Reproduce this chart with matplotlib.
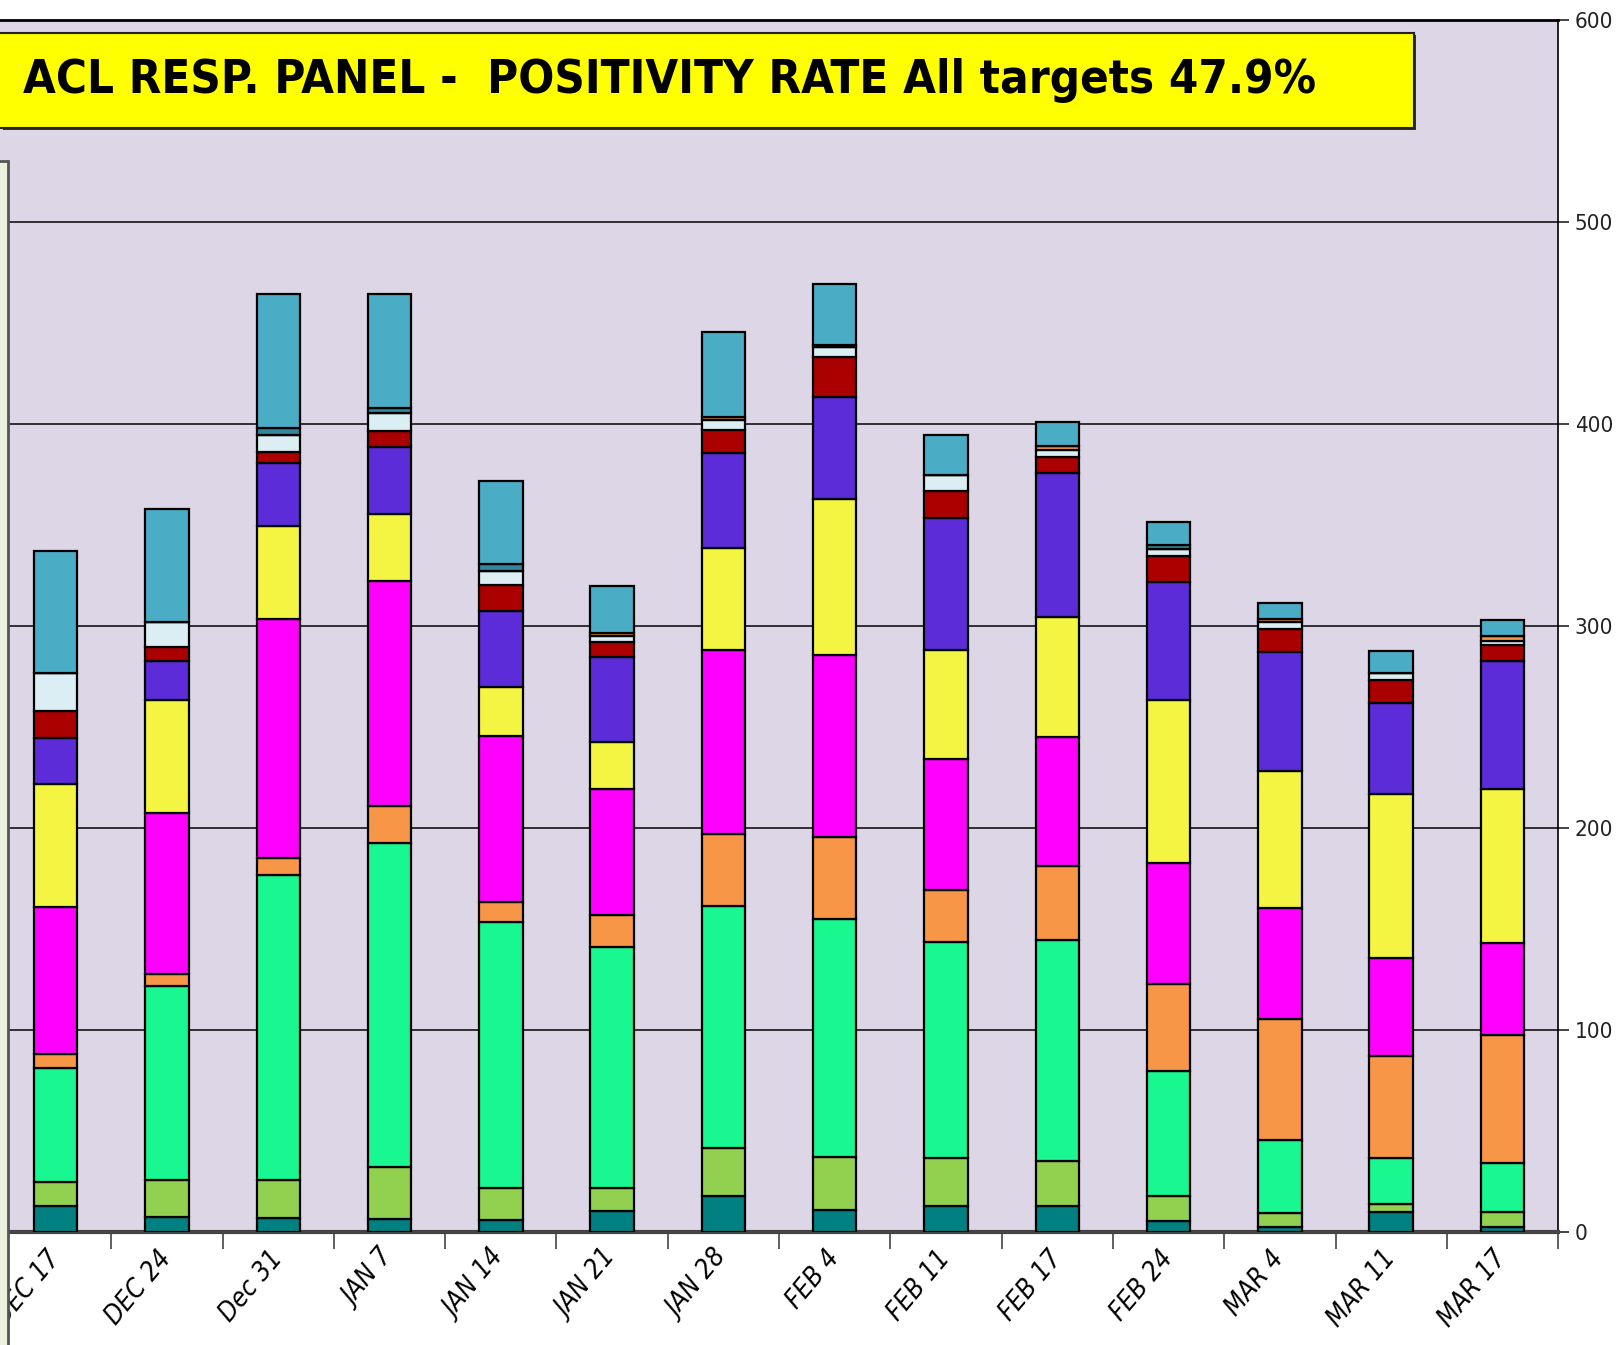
import numpy as np
import matplotlib.pyplot as plt
from matplotlib import font_manager
from matplotlib.patches import Rectangle

categories = ['DEC 17', 'DEC 24', 'Dec 31', 'JAN 7', 'JAN 14', 'JAN 21', 'JAN 28',
              'FEB 4', 'FEB 11', 'FEB 17', 'FEB 24', 'MAR 4', 'MAR 11', 'MAR 17']

# stacked segments, bottom to top
teal = [12.9, 7.3, 6.7, 6.2, 6.0, 10.2, 17.6, 10.8, 12.9, 12.9, 5.5, 2.4, 9.8, 2.5]
yellowgreen = [11.7, 18.4, 19.0, 26.2, 15.8, 11.6, 24.2, 26.1, 23.6, 22.5, 12.3, 6.8, 4.1, 7.6]
green = [56.8, 96.3, 150.8, 160.1, 131.5, 119.2, 119.6, 118.3, 107.1, 109.2, 61.7, 36.6, 22.6, 23.9]
orange = [6.6, 5.5, 8.9, 18.5, 10.3, 16.0, 35.8, 40.5, 25.7, 36.8, 43.3, 59.9, 50.4, 63.7]
magenta = [72.8, 79.8, 117.9, 111.2, 81.9, 62.1, 91.0, 90.2, 65.1, 63.7, 60.1, 54.6, 48.9, 45.3]
yellow = [61.2, 56.1, 46.2, 33.4, 24.4, 23.7, 50.5, 77.0, 53.5, 59.6, 80.6, 68.0, 81.2, 76.2]
violet = [22.6, 19.5, 31.2, 32.8, 37.5, 41.7, 46.9, 50.6, 65.6, 70.9, 58.3, 59.0, 44.9, 63.4]
darkred = [13.3, 6.5, 5.5, 8.3, 13.1, 7.4, 11.3, 19.5, 13.2, 8.1, 13.1, 11.4, 11.6, 8.1]
lightcyan = [18.6, 12.4, 8.5, 8.8, 6.6, 3.0, 5.2, 5.0, 8.1, 3.2, 3.1, 3.4, 3.2, 2.1]
orange2 = [0, 0, 0, 0, 0, 1.5, 1.6, 0, 0, 2.3, 0, 1.5, 0, 2.5]
darkteal = [0, 0, 3.5, 2.2, 3.7, 0, 0, 1.0, 0, 0, 2.2, 0, 0, 0]
blue = [60.8, 55.9, 66.2, 56.7, 41.0, 23.2, 41.7, 30.3, 19.7, 11.8, 11.2, 7.6, 11.0, 7.5]

series = [teal, yellowgreen, green, orange, magenta, yellow, violet,
          darkred, lightcyan, orange2, darkteal, blue]
colors = ['#008080', '#92D050', '#18F790', '#F79646', '#FF00FF', '#F4F442', '#5B2CD8',
          '#AA0000', '#DAEEF3', '#F79646', '#31859C', '#4BACC6']

title = 'ACL RESP. PANEL -  POSITIVITY RATE All targets 47.9%'

# use a condensed face if one is installed, otherwise Liberation Sans
have_condensed = any(f.name == 'DejaVu Sans' and str(f.stretch) in ('condensed', '300')
                     for f in font_manager.fontManager.ttflist)
if have_condensed:
    font_kw = dict(family='DejaVu Sans', stretch='condensed')
else:
    font_kw = dict(family='Liberation Sans')

fig = plt.figure(figsize=(16.18, 13.45), dpi=100)
ax = fig.add_axes([0.0, 0.084, 0.963, 0.9011])
ax.set_facecolor('#DCD6E6')

x = np.arange(len(categories)) + 0.5
bottom = np.zeros(len(categories))
for vals, col in zip(series, colors):
    vals = np.array(vals)
    ax.bar(x, vals, width=0.39, bottom=bottom, color=col,
           edgecolor='black', linewidth=1.6, zorder=3)
    bottom += vals

ax.set_xlim(0, len(categories))
ax.set_ylim(0, 600)

for v in range(100, 600, 100):
    ax.axhline(v, color='#222222', linewidth=1.3, zorder=1)

ax.yaxis.tick_right()
ax.set_yticks(range(0, 601, 100))
ax.tick_params(axis='y', direction='out', length=8, width=1.2, pad=4,
               labelsize=16, colors='#222222')
for lab in ax.get_yticklabels():
    lab.set(**font_kw)

ax.set_xticks(x)
ax.set_xticklabels(categories, rotation=50, ha='right', va='center',
                   rotation_mode='anchor', fontsize=19, style='italic')
for lab in ax.get_xticklabels():
    lab.set(**font_kw)
ax.set_xticks(np.arange(1, len(categories) + 1), minor=True)
ax.tick_params(axis='x', which='major', length=0, pad=16)
ax.tick_params(axis='x', which='minor', length=12, width=1.2, color='#444444')

ax.spines['left'].set_visible(False)
ax.spines['top'].set_linewidth(2.0)
ax.spines['right'].set_linewidth(1.2)
ax.spines['bottom'].set_linewidth(3.0)
ax.spines['bottom'].set_color('#444444')

# partial legend box cut off at the left edge
fig.patches.append(Rectangle((-0.01, -0.01), 0.0148, 0.89, transform=fig.transFigure,
                             facecolor='#EBF0DF', edgecolor='#555555', linewidth=2.0,
                             zorder=5))

# title box with shadow
fig.patches.append(Rectangle((0.002, 0.9030), 0.873, 0.0707, transform=fig.transFigure,
                             facecolor='#333333', edgecolor='none', zorder=5))
fig.patches.append(Rectangle((-0.01, 0.9048), 0.8838, 0.0707, transform=fig.transFigure,
                             facecolor='#FFFF00', edgecolor='#222222', linewidth=1.5,
                             zorder=6))
t = fig.text(0.014, 0.9405, title, fontsize=40, fontweight='bold',
             va='center', ha='left', zorder=7, **font_kw)

# size the title so it spans the same width as in the original
renderer = fig.canvas.get_renderer()
w = t.get_window_extent(renderer).width
t.set_fontsize(min(40 * 1293.0 / w, 46))

fig.savefig('out.png', dpi=100)
